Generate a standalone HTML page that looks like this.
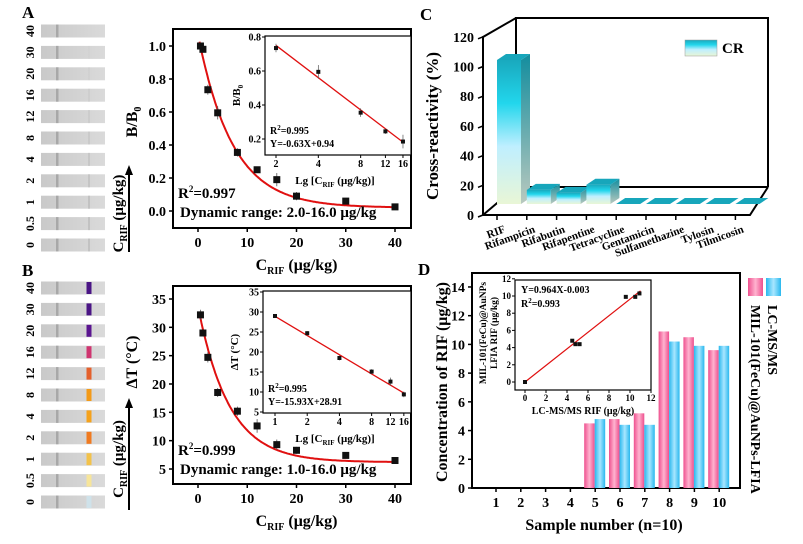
<!DOCTYPE html>
<html><head><meta charset="utf-8">
<style>
html,body{margin:0;padding:0;background:#fff;}
svg{display:block;font-family:"Liberation Serif",serif;font-weight:bold;}
</style></head>
<body>
<svg id="fig" width="803" height="544" viewBox="0 0 803 544" xmlns="http://www.w3.org/2000/svg">
<defs>
<linearGradient id="barGrad" x1="0" y1="0" x2="0" y2="1">
<stop offset="0" stop-color="#19a9be"/><stop offset="0.3" stop-color="#22d6ec"/><stop offset="0.6" stop-color="#bfefff"/><stop offset="1" stop-color="#e9f6d6"/>
</linearGradient>
<linearGradient id="sideGrad" x1="0" y1="0" x2="0" y2="1">
<stop offset="0" stop-color="#138d9e"/><stop offset="1" stop-color="#b9c9bf"/>
</linearGradient>
<linearGradient id="pinkGrad" x1="0" y1="0" x2="1" y2="0">
<stop offset="0" stop-color="#ee4f8e"/><stop offset="0.5" stop-color="#ffb3cf"/><stop offset="1" stop-color="#ee4f8e"/>
</linearGradient>
<linearGradient id="blueGrad" x1="0" y1="0" x2="1" y2="0">
<stop offset="0" stop-color="#29b8ee"/><stop offset="0.5" stop-color="#a8e6ff"/><stop offset="1" stop-color="#29b8ee"/>
</linearGradient>
<linearGradient id="stripGrad" x1="0" y1="0" x2="1" y2="0">
<stop offset="0" stop-color="#c9c9c9"/><stop offset="1" stop-color="#dadada"/>
</linearGradient>
</defs>
<g id="root"></g>
</svg>
<script>
// ---------- data ----------
const stripLabels = ['40','30','20','16','12','8','4','2','1','0.5','0'];
const stripSpotColors = ['#4a1585','#4a1585','#5a1590','#cf3570','#e4602c','#f39a18','#f5a21c','#f07a20','#f3c24a','#f7e59a','#cfe2ea'];
const aX = [0.5,1,2,4,8,12,16,20,30,40];
const aY = [1.0,0.98,0.735,0.595,0.355,0.25,0.19,0.09,0.06,0.025];
const aErr = [0.02,0.015,0.03,0.04,0.025,0.015,0.04,0.025,0.015,0.01];
const aInX = [2,4,8,12,16];
const aInY = [0.735,0.595,0.355,0.245,0.185];
const aInErr = [0.025,0.04,0.025,0.015,0.04];
const bX = [0.5,1,2,4,8,12,16,20,30,40];
const bY = [32.2,29,24.7,18.5,15.2,12.6,9.3,8.3,7.4,6.5];
const bErr = [0.9,0.6,0.9,0.8,0.8,1.2,0.9,0.6,0.4,0.3];
const bInX = [1,2,4,8,12,16];
const bInY = [29,24.7,18.5,15.1,12.6,9.4];
const bInErr = [0.3,0.5,0.6,0.6,1.0,0.7];
const cCats = ['RIF','Rifampicin','Rifabutin','Rifapentine','Tetracycline','Gentamicin','Sulfamethazine','Tylosin','Tilmicosin'];
const cVals = [97,9.5,7.5,13,0,0,0,0,0];
const cTicks = [0,20,40,60,80,100,120];
const dSamples = [1,2,3,4,5,6,7,8,9,10];
const dLC = [0,0,0,0,4.5,4.8,5.2,10.9,10.5,9.6];
const dLFIA = [0,0,0,0,4.8,4.4,4.4,10.2,9.9,9.9];
const dTicks = [0,2,4,6,8,10,12,14];
const dInX = [0,4.5,4.8,5.2,9.6,10.5,10.9];
const dInY = [0,4.8,4.4,4.4,9.9,9.9,10.3];
const dInTicks = [0,2,4,6,8,10,12];

// ---------- helpers ----------
const NS='http://www.w3.org/2000/svg';
const root=document.getElementById('root');
function mk(tag,attrs,parent,txt){const e=document.createElementNS(NS,tag);for(const k in attrs)e.setAttribute(k,attrs[k]);if(txt!==undefined)e.textContent=txt;(parent||root).appendChild(e);return e;}
function tag(el,name){


return el;}
function grp(name){const g=mk('g',{});return tag(g,name);}
function rich(parent,x,y,size,parts,attrs){const t=mk('text',Object.assign({x:x,y:y,'font-size':size},attrs||{}),parent);parts.forEach(p=>{mk('tspan',p[1]||{},t,p[0]);});return t;}

// ---------- axis functions ----------
const ax=v=>198+v*4.925, ay=v=>211-v*165;
const aix=v=>276+(Math.log10(v)-Math.log10(2))*140.6, aiy=v=>37+(0.8-v)*170;
const bx=ax, by=v=>469-(v-5)*5.667;
const bix=v=>275+Math.log10(v)*107, biy=v=>412-(v-5)*4;
const cxTick=i=>497+i*29.8, cBar=v=>204-v*1.485, cAxis=v=>215-v*1.485;
const dx=s=>496+(s-1)*24.8, dy=v=>488-v*14.36;
const dix=v=>525+v*10.5, diy=v=>382-v*8.6;

// ---------- strips ----------
function strips(name,top,withSpots,ytop,ybot){
 const g=grp(name);
 stripLabels.forEach((lab,i)=>{
  const yc=top+i*21.4;
  const r=mk('rect',{x:41,y:yc-6.5,width:64,height:13,fill:'url(#stripGrad)'},g);
  tag(r,'strip-'+lab);
  mk('rect',{x:56,y:yc-6.5,width:2.5,height:13,fill:'#a8a8a8'},g);
  if(withSpots){
   const s=mk('rect',{x:86.5,y:yc-6,width:5,height:12,fill:stripSpotColors[i]},g);
   tag(s,'test-spot-'+lab);
  } else {
   mk('rect',{x:88,y:yc-6.5,width:2,height:13,fill:'#c2c2c2','opacity':Math.min(1,i/8)},g);
  }
  const t=mk('text',{x:0,y:0,'font-size':12,'text-anchor':'middle',transform:`translate(34,${yc}) rotate(-90)`},g,lab);
  tag(t,'strip-label-'+lab);
 });
 mk('line',{x1:129,y1:ybot,x2:129,y2:ytop+6,stroke:'#000','stroke-width':2},g);
 mk('path',{d:`M125,${ytop+8} L129,${ytop-2} L133,${ytop+8}Z`,fill:'#000'},g);
 rich(g,0,0,15,[['C'],['RIF',{'font-size':10,dy:4}],[' (μg/kg)',{dy:-4}]],{'text-anchor':'middle',transform:`translate(123,${(ytop+ybot)/2+4}) rotate(-90)`});
}
strips('strips-a',31,false,167,252);
strips('strips-b',288,true,400,510);

// ---------- panel labels ----------
tag(mk('text',{x:22,y:18,'font-size':17},root,'A'),'panel-label-a');
tag(mk('text',{x:22,y:276,'font-size':17},root,'B'),'panel-label-b');
tag(mk('text',{x:420,y:20,'font-size':17},root,'C'),'panel-label-c');
tag(mk('text',{x:418,y:275,'font-size':17},root,'D'),'panel-label-d');

// ---------- scatter/decay panel builder ----------
function decayPanel(cfg){
 const g=grp(cfg.name);
 tag(mk('rect',{x:cfg.L,y:cfg.T,width:cfg.R-cfg.L,height:cfg.B-cfg.T,fill:'none',stroke:'#000','stroke-width':2},g),'plot-frame');
 [0,10,20,30,40].forEach(v=>{
  mk('line',{x1:cfg.xf(v),y1:cfg.B,x2:cfg.xf(v),y2:cfg.B+4,stroke:'#000','stroke-width':1.5},g);
  tag(mk('text',{x:cfg.xf(v),y:cfg.B+19,'font-size':14,'text-anchor':'middle'},g,String(v)),'x-tick-label');
 });
 cfg.yt.forEach(v=>{
  mk('line',{x1:cfg.L,y1:cfg.yf(v),x2:cfg.L-4,y2:cfg.yf(v),stroke:'#000','stroke-width':1.5},g);
  tag(mk('text',{x:cfg.L-7,y:cfg.yf(v)+5,'font-size':14,'text-anchor':'end'},g,cfg.yfmt(v)),'y-tick-label');
 });
 let d='';for(let x=0.3;x<=40;x+=0.2){const y=cfg.fit(x);d+=(d?'L':'M')+cfg.xf(x).toFixed(1)+','+cfg.yf(y).toFixed(1);}
 tag(mk('path',{d:d,fill:'none',stroke:'#e01010','stroke-width':2},g),'fit-curve');
 cfg.X.forEach((x,i)=>{
  const px=cfg.xf(x),py=cfg.yf(cfg.Y[i]),e=cfg.E[i];
  mk('line',{x1:px,y1:cfg.yf(cfg.Y[i]+e),x2:px,y2:cfg.yf(cfg.Y[i]-e),stroke:'#555','stroke-width':0.8},g);
  tag(mk('rect',{x:px-3.5,y:py-3.5,width:7,height:7,fill:'#111'},g),'data-point');
 });
 tag(rich(g,cfg.L+5,cfg.rY,15,[['R'],['2',{'font-size':9,dy:-6}],['='+cfg.r2,{dy:6}]]),'r2-label');
 tag(mk('text',{x:cfg.L+7,y:cfg.rY+19,'font-size':15},g,cfg.range),'dynamic-range-label');
 tag(rich(g,0,0,16,cfg.ytitle,{'text-anchor':'middle',transform:`translate(${cfg.L-36},${cfg.ytY}) rotate(-90)`}),'y-axis-title');
 tag(rich(g,cfg.xf(20),cfg.B+42,16,[['C'],['RIF',{'font-size':10,dy:4}],[' (μg/kg)',{dy:-4}]],{'text-anchor':'middle'}),'x-axis-title');
 const ig=mk('g',{},g);tag(ig,'inset');
 tag(mk('rect',{x:cfg.iL,y:cfg.iT,width:cfg.R-cfg.iL,height:cfg.iB-cfg.iT,fill:'#fff',stroke:'#000','stroke-width':1.2},ig),'inset-frame');
 cfg.ixt.forEach(v=>{
  mk('line',{x1:cfg.ixf(v),y1:cfg.iB,x2:cfg.ixf(v),y2:cfg.iB+3,stroke:'#000'},ig);
  tag(mk('text',{x:cfg.ixf(v),y:cfg.iB+12,'font-size':10,'text-anchor':'middle'},ig,String(v)),'inset-x-tick');
 });
 cfg.iyt.forEach(v=>{
  mk('line',{x1:cfg.iL,y1:cfg.iyf(v),x2:cfg.iL-3,y2:cfg.iyf(v),stroke:'#000'},ig);
  tag(mk('text',{x:cfg.iL-4,y:cfg.iyf(v)+3.5,'font-size':10,'text-anchor':'end'},ig,cfg.iyfmt(v)),'inset-y-tick');
 });
 const x0=cfg.iX[0],x1=cfg.iX[cfg.iX.length-1];
 tag(mk('line',{x1:cfg.ixf(x0),y1:cfg.iyf(cfg.ilin(x0)),x2:cfg.ixf(x1),y2:cfg.iyf(cfg.ilin(x1)),stroke:'#e01010','stroke-width':1.3},ig),'inset-fit-line');
 cfg.iX.forEach((x,i)=>{
  const px=cfg.ixf(x),py=cfg.iyf(cfg.iY[i]),e=cfg.iE[i];
  mk('line',{x1:px,y1:cfg.iyf(cfg.iY[i]+e),x2:px,y2:cfg.iyf(cfg.iY[i]-e),stroke:'#555','stroke-width':0.7},ig);
  tag(mk('rect',{x:px-2,y:py-2,width:4,height:4,fill:'#111'},ig),'inset-point');
 });
 tag(rich(ig,cfg.iL+5,cfg.iB-21,10,[['R'],['2',{'font-size':7,dy:-4}],['='+cfg.ir2,{dy:4}]]),'inset-r2');
 tag(mk('text',{x:cfg.iL+5,y:cfg.iB-8,'font-size':10},ig,cfg.ieq),'inset-equation');
 tag(rich(ig,cfg.ixtitle,cfg.iB+29,11,[['Lg [C'],['RIF',{'font-size':7,dy:3}],[' (μg/kg)]',{dy:-3}]],{'text-anchor':'middle'}),'inset-x-title');
 tag(rich(ig,0,0,11,cfg.iytitle,{'text-anchor':'middle',transform:`translate(${cfg.iL-25},${(cfg.iT+cfg.iB)/2}) rotate(-90)`}),'inset-y-title');
}

decayPanel({name:'panel-a',L:173,R:411,T:29,B:228,xf:ax,yf:ay,yt:[0,0.2,0.4,0.6,0.8,1.0],yfmt:v=>v.toFixed(1),
 fit:x=>1.05*Math.exp(-x/7)+0.02,X:aX,Y:aY,E:aErr,rY:198,r2:'0.997',range:'Dynamic range: 2.0-16.0 μg/kg',
 ytitle:[['B/B'],['0',{'font-size':10,dy:4}]],ytY:122,
 iL:265,iT:36,iB:155,ixf:aix,iyf:aiy,ixt:[2,4,8,12,16],iyt:[0.2,0.4,0.6,0.8],iyfmt:v=>v.toFixed(1),
 iX:aInX,iY:aInY,iE:aInErr,ilin:x=>-0.63*Math.log10(x)+0.94,ir2:'0.995',ieq:'Y=-0.63X+0.94',ixtitle:335,
 iytitle:[['B/B'],['0',{'font-size':7,dy:3}]]});

decayPanel({name:'panel-b',L:173,R:411,T:286,B:484,xf:bx,yf:by,yt:[5,10,15,20,25,30,35],yfmt:v=>String(v),
 fit:x=>27.5*Math.exp(-x/6.3)+6.2,X:bX,Y:bY,E:bErr,rY:455,r2:'0.999',range:'Dynamic range: 1.0-16.0 μg/kg',
 ytitle:[['ΔT (°C)']],ytY:362,
 iL:263,iT:291,iB:413,ixf:bix,iyf:biy,ixt:[1,2,4,8,12,16],iyt:[5,10,15,20,25,30,35],iyfmt:v=>String(v),
 iX:bInX,iY:bInY,iE:bInErr,ilin:x=>-15.93*Math.log10(x)+28.91,ir2:'0.995',ieq:'Y=-15.93X+28.91',ixtitle:335,
 iytitle:[['ΔT (°C)']]});

// ---------- panel C ----------
(function(){
 const g=grp('panel-c');
 const st={fill:'none',stroke:'#000','stroke-width':2};
 tag(mk('path',Object.assign({d:'M516,187 L516,18 L768,18 L768,187'},st),g),'back-wall');
 tag(mk('path',Object.assign({d:'M483,215 L750,215 L768,187 M483,215 L516,187 L768,187 M483,215 L483,37 L516,18'},st),g),'floor-and-axis');
 cTicks.forEach(v=>{
  mk('line',{x1:483,y1:cAxis(v),x2:478,y2:cAxis(v)+2,stroke:'#000','stroke-width':1.5},g);
  tag(mk('text',{x:474,y:cAxis(v)+5,'font-size':14,'text-anchor':'end'},g,String(v)),'y-tick-label');
 });
 tag(mk('text',{x:0,y:0,'font-size':17,'text-anchor':'middle',transform:'translate(438,126) rotate(-90)'},g,'Cross-reactivity (%)'),'y-axis-title');
 cCats.forEach((c,i)=>{
  const x=cxTick(i),w=24,top=cBar(cVals[i]),bot=204,ddx=9,dyy=-6;
  if(cVals[i]>0.5){
   tag(mk('rect',{x:x,y:top,width:w,height:bot-top,fill:'url(#barGrad)'},g),'bar-'+c.toLowerCase());
   mk('path',{d:`M${x+w},${top} L${x+w+ddx},${top+dyy} L${x+w+ddx},${bot+dyy} L${x+w},${bot}Z`,fill:'url(#sideGrad)'},g);
   mk('path',{d:`M${x},${top} L${x+ddx},${top+dyy} L${x+w+ddx},${top+dyy} L${x+w},${top}Z`,fill:'#17a6bb'},g);
  } else {
   tag(mk('path',{d:`M${x},${bot} L${x+ddx},${bot+dyy} L${x+w+ddx},${bot+dyy} L${x+w},${bot}Z`,fill:'#17a6bb'},g),'bar-'+c.toLowerCase());
  }
  mk('line',{x1:x,y1:215,x2:x,y2:220,stroke:'#000','stroke-width':1.5},g);
  tag(mk('text',{x:0,y:0,'font-size':11,'text-anchor':'end',transform:`translate(${x+9},${232}) rotate(-20)`},g,c),'category-label');
 });
 const lg=mk('g',{},g);tag(lg,'legend');
 mk('rect',{x:685,y:40,width:32,height:16,fill:'url(#barGrad)',stroke:'#999','stroke-width':0.5},lg);
 mk('text',{x:722,y:53,'font-size':15},lg,'CR');
})();

// ---------- panel D ----------
(function(){
 const g=grp('panel-d');
 tag(mk('rect',{x:472,y:273,width:268,height:215,fill:'none',stroke:'#000','stroke-width':2},g),'plot-frame');
 dTicks.forEach(v=>{
  mk('line',{x1:472,y1:dy(v),x2:468,y2:dy(v),stroke:'#000','stroke-width':1.5},g);
  tag(mk('text',{x:465,y:dy(v)+5,'font-size':14,'text-anchor':'end'},g,String(v)),'y-tick-label');
 });
 dSamples.forEach((s,i)=>{
  const cx=dx(s);
  tag(mk('rect',{x:cx-11,y:dy(dLC[i]),width:10.5,height:488-dy(dLC[i]),fill:'url(#pinkGrad)'},g),'bar-lcmsms-'+s);
  tag(mk('rect',{x:cx-0.5,y:dy(dLFIA[i]),width:10.5,height:488-dy(dLFIA[i]),fill:'url(#blueGrad)'},g),'bar-lfia-'+s);
  mk('line',{x1:cx,y1:488,x2:cx,y2:492,stroke:'#000','stroke-width':1.5},g);
  tag(mk('text',{x:cx,y:507,'font-size':14,'text-anchor':'middle'},g,String(s)),'x-tick-label');
 });
 tag(mk('text',{x:604,y:530,'font-size':16,'text-anchor':'middle'},g,'Sample number (n=10)'),'x-axis-title');
 tag(mk('text',{x:0,y:0,'font-size':16,'text-anchor':'middle',transform:'translate(447,382) rotate(-90)'},g,'Concentration of RIF (μg/kg)'),'y-axis-title');
 const lg=mk('g',{},g);tag(lg,'legend');
 tag(mk('rect',{x:748,y:278,width:15,height:18,fill:'url(#pinkGrad)'},lg),'legend-swatch-lcmsms');
 tag(mk('rect',{x:766,y:278,width:15,height:18,fill:'url(#blueGrad)'},lg),'legend-swatch-lfia');
 tag(mk('text',{x:0,y:0,'font-size':14,transform:'translate(768,305) rotate(90)'},lg,'LC-MS/MS'),'legend-entry-lcmsms');
 tag(mk('text',{x:0,y:0,'font-size':14,transform:'translate(751,305) rotate(90)'},lg,'MIL-101(FeCu)@AuNPs-LFIA'),'legend-entry-lfia');
 const ig=mk('g',{},g);tag(ig,'inset');
 tag(mk('rect',{x:515,y:280,width:136,height:110,fill:'#fff',stroke:'#000','stroke-width':1.2},ig),'inset-frame');
 dInTicks.forEach(v=>{
  mk('line',{x1:dix(v),y1:390,x2:dix(v),y2:393,stroke:'#000'},ig);
  tag(mk('text',{x:dix(v),y:401,'font-size':9,'text-anchor':'middle'},ig,String(v)),'inset-x-tick');
  mk('line',{x1:515,y1:diy(v),x2:512,y2:diy(v),stroke:'#000'},ig);
  tag(mk('text',{x:511,y:diy(v)+3,'font-size':9,'text-anchor':'end'},ig,String(v)),'inset-y-tick');
 });
 tag(mk('line',{x1:dix(0),y1:diy(-0.003),x2:dix(11),y2:diy(0.964*11-0.003),stroke:'#e01010','stroke-width':1.2},ig),'inset-fit-line');
 dInX.forEach((x,i)=>{
  tag(mk('rect',{x:dix(x)-2,y:diy(dInY[i])-2,width:4,height:4,fill:'#111'},ig),'inset-point');
 });
 tag(mk('text',{x:521,y:293,'font-size':10},ig,'Y=0.964X-0.003'),'inset-equation');
 tag(rich(ig,521,307,10,[['R'],['2',{'font-size':7,dy:-4}],['=0.993',{dy:4}]]),'inset-r2');
 tag(mk('text',{x:583,y:414,'font-size':10,'text-anchor':'middle'},ig,'LC-MS/MS RIF (μg/kg)'),'inset-x-title');
 const yt=mk('text',{x:0,y:0,'font-size':9.5,'text-anchor':'middle',transform:'translate(486,333) rotate(-90)'},ig);
 tag(yt,'inset-y-title');
 mk('tspan',{x:0,y:0},yt,'MIL-101(FeCu)@AuNPs');
 mk('tspan',{x:0,y:11},yt,'LFIA RIF (μg/kg)');
})();
</script>
</body></html>
